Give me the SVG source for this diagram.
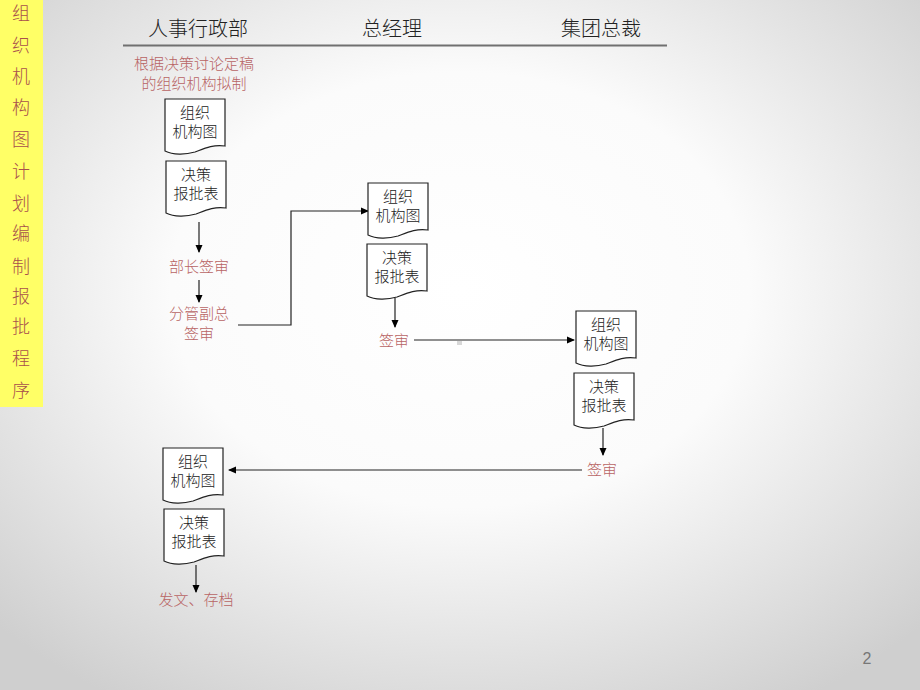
<svg xmlns="http://www.w3.org/2000/svg" width="920" height="690" viewBox="0 0 920 690">
<defs>
<radialGradient id="bg" cx="50%" cy="42%" r="70%">
<stop offset="0" stop-color="#ffffff"/>
<stop offset="0.45" stop-color="#fbfbfb"/>
<stop offset="1" stop-color="#cfcfcf"/>
</radialGradient>
<path id="doc" d="M0,0 H60 V47 C48,45 38,50 30,53 C20,56 8,56 0,52 Z"/>
<marker id="ah" markerWidth="8" markerHeight="8" refX="7" refY="4" orient="auto" markerUnits="userSpaceOnUse">
<path d="M0,0.5 L8,4 L0,7.5 Z" fill="#000"/>
</marker>
<style>
.doc{fill:#fff;stroke:#222;stroke-width:1.2}
.bt{font-family:"Noto Sans CJK SC",sans-serif;font-size:15px;font-weight:300;fill:#222;text-anchor:middle}
.rl{font-family:"Noto Sans CJK SC",sans-serif;font-size:15px;font-weight:300;fill:#b86464;text-anchor:middle}
.hd{font-family:"Noto Sans CJK SC",sans-serif;font-size:20px;font-weight:300;fill:#222;text-anchor:middle}
.band{font-family:"Noto Sans CJK SC",sans-serif;font-size:18px;font-weight:300;fill:#a8504c;text-anchor:middle}
.cn{fill:none;stroke:#222;stroke-width:1.2}
</style>
</defs>
<rect width="920" height="690" fill="url(#bg)"/>
<rect x="0" y="0" width="43" height="407" fill="#ffff66"/>
<g id="band-title">
<text class="band" x="21" y="20">组</text>
<text class="band" x="21" y="52">织</text>
<text class="band" x="21" y="83">机</text>
<text class="band" x="21" y="114">构</text>
<text class="band" x="21" y="146">图</text>
<text class="band" x="21" y="178">计</text>
<text class="band" x="21" y="210">划</text>
<text class="band" x="21" y="240">编</text>
<text class="band" x="21" y="273">制</text>
<text class="band" x="21" y="303">报</text>
<text class="band" x="21" y="333">批</text>
<text class="band" x="21" y="365">程</text>
<text class="band" x="21" y="397">序</text>
</g>
<g id="header">
<text class="hd" x="198" y="36">人事行政部</text>
<text class="hd" x="392" y="36">总经理</text>
<text class="hd" x="601" y="36">集团总裁</text>
<line x1="123" y1="45.5" x2="667" y2="45.5" stroke="#707070" stroke-width="2"/>
</g>
<g id="connectors">
<line class="cn" x1="199" y1="222" x2="199" y2="252" marker-end="url(#ah)"/>
<line class="cn" x1="199" y1="280" x2="199" y2="302" marker-end="url(#ah)"/>
<path class="cn" d="M238,325 H291 V211 H368" marker-end="url(#ah)"/>
<line class="cn" x1="395" y1="298" x2="395" y2="327" marker-end="url(#ah)"/>
<line class="cn" x1="414" y1="340" x2="574" y2="340" marker-end="url(#ah)"/>
<line class="cn" x1="603" y1="428" x2="603" y2="455" marker-end="url(#ah)"/>
<line class="cn" x1="582" y1="470" x2="229" y2="470" marker-end="url(#ah)"/>
<line class="cn" x1="196" y1="565" x2="196" y2="592" marker-end="url(#ah)"/>
</g>
<rect x="457" y="341" width="5" height="4" fill="#d8d8d8"/>
<g id="label-draft">
<text class="rl" x="194" y="69">根据决策讨论定稿</text>
<text class="rl" x="194" y="88.5">的组织机构拟制</text>
</g>
<g id="doc1"><use href="#doc" class="doc" x="165" y="99"/><text class="bt" x="195" y="118">组织</text><text class="bt" x="195" y="137">机构图</text></g>
<g id="doc2"><use href="#doc" class="doc" x="166" y="161"/><text class="bt" x="196" y="180">决策</text><text class="bt" x="196" y="199">报批表</text></g>
<g id="label-dept"><text class="rl" x="199" y="272">部长签审</text></g>
<g id="label-vp"><text class="rl" x="199" y="319">分管副总</text><text class="rl" x="199" y="338.5">签审</text></g>
<g id="doc3"><use href="#doc" class="doc" x="368" y="183"/><text class="bt" x="398" y="202">组织</text><text class="bt" x="398" y="221">机构图</text></g>
<g id="doc4"><use href="#doc" class="doc" x="367" y="244"/><text class="bt" x="397" y="263">决策</text><text class="bt" x="397" y="282">报批表</text></g>
<g id="label-gm"><text class="rl" x="394" y="346">签审</text></g>
<g id="doc5"><use href="#doc" class="doc" x="576" y="311"/><text class="bt" x="606" y="330">组织</text><text class="bt" x="606" y="349">机构图</text></g>
<g id="doc6"><use href="#doc" class="doc" x="574" y="373"/><text class="bt" x="604" y="392">决策</text><text class="bt" x="604" y="411">报批表</text></g>
<g id="label-ceo"><text class="rl" x="602" y="475">签审</text></g>
<g id="doc7"><use href="#doc" class="doc" x="163" y="448"/><text class="bt" x="193" y="467">组织</text><text class="bt" x="193" y="486">机构图</text></g>
<g id="doc8"><use href="#doc" class="doc" x="164" y="509"/><text class="bt" x="194" y="528">决策</text><text class="bt" x="194" y="547">报批表</text></g>
<g id="label-archive"><text class="rl" x="196" y="605">发文、存档</text></g>
<text x="867" y="664" font-family="Liberation Sans, Arial, sans-serif" font-size="16" fill="#777" text-anchor="middle">2</text>
</svg>
